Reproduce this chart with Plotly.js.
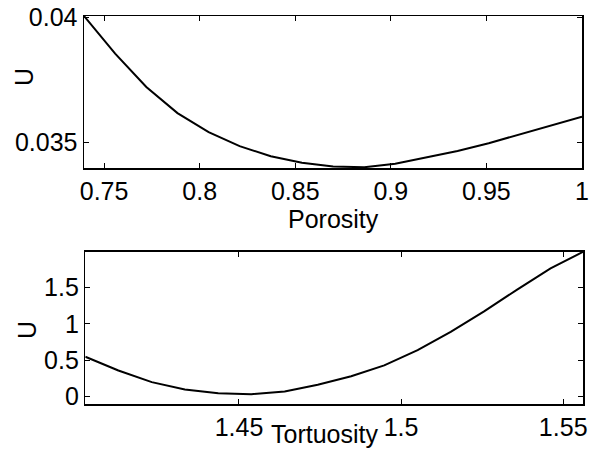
<!DOCTYPE html>
<html>
<head>
<meta charset="utf-8">
<script src="https://cdn.plot.ly/plotly-3.0.1.min.js"></script>
<style>html,body{margin:0;padding:0;background:#fff;}#chart{width:592px;height:451px;}</style>
</head>
<body>
<div id="chart"></div>
<script>
// Top panel: U vs Porosity
const porosity = [0.7395, 0.7558, 0.7721, 0.7884, 0.8047, 0.8209, 0.8372, 0.8535, 0.8698,
                  0.8861, 0.9023, 0.9186, 0.9349, 0.9512, 0.9674, 0.9837, 1.0];
const uPorosity = [0.04005, 0.03855, 0.03722, 0.03618, 0.03542, 0.03486, 0.03446, 0.03420, 0.03405,
                   0.03402, 0.03416, 0.03440, 0.03467, 0.03498, 0.03533, 0.03569, 0.03603];
// Bottom panel: U vs Tortuosity
const tortuosity = [1.4026, 1.4128, 1.4231, 1.4333, 1.4436, 1.4538, 1.4641, 1.4743,
                    1.4846, 1.4948, 1.5051, 1.5153, 1.5256, 1.5358, 1.5461, 1.5562];
const uTortuosity = [0.549, 0.36, 0.20, 0.10, 0.048, 0.035, 0.072, 0.165,
                     0.28, 0.43, 0.64, 0.89, 1.17, 1.47, 1.76, 1.99];

const topXTicks = [0.75, 0.8, 0.85, 0.9, 0.95, 1];
const topXLabels = ["0.75", "0.8", "0.85", "0.9", "0.95", "1"];
const topYTicks = [0.035, 0.04];
const topYLabels = ["0.035", "0.04"];
const botXTicks = [1.45, 1.5, 1.55];
const botXLabels = ["1.45", "1.5", "1.55"];
const botYTicks = [0, 0.5, 1, 1.5];
const botYLabels = ["0", "0.5", "1", "1.5"];

const W = 592, H = 451;
const fnt = {family: "Liberation Sans, Arial, sans-serif", size: 25, color: "#000"};

const axBase = {
  showline: true, linecolor: "#000", linewidth: 1.5, mirror: "allticks",
  ticks: "inside", ticklen: 5, tickwidth: 1, tickcolor: "#000",
  showgrid: false, zeroline: false, tickfont: fnt, tickmode: "array", fixedrange: true
};

const traces = [
  {x: porosity, y: uPorosity, type: "scatter", mode: "lines", xaxis: "x", yaxis: "y",
   line: {color: "#000", width: 2}, hoverinfo: "skip"},
  {x: tortuosity, y: uTortuosity, type: "scatter", mode: "lines", xaxis: "x2", yaxis: "y2",
   line: {color: "#000", width: 2}, hoverinfo: "skip"}
];

const layout = {
  width: W, height: H, margin: {l: 0, r: 0, t: 0, b: 0},
  paper_bgcolor: "#fff", plot_bgcolor: "#fff", showlegend: false, font: fnt,
  xaxis: Object.assign({}, axBase, {domain: [84/W, 582/W], range: [0.7395, 1.0],
    tickvals: topXTicks, ticktext: topXLabels, anchor: "y"}),
  yaxis: Object.assign({}, axBase, {domain: [1-168/H, 1-16/H], range: [0.03399, 0.04005],
    tickvals: topYTicks, ticktext: topYLabels, anchor: "x"}),
  xaxis2: Object.assign({}, axBase, {domain: [85.3/W, 583.3/W], range: [1.4026, 1.5562],
    tickvals: botXTicks, ticktext: botXLabels, anchor: "y2"}),
  yaxis2: Object.assign({}, axBase, {domain: [1-404/H, 1-251.7/H], range: [-0.1, 1.99],
    tickvals: botYTicks, ticktext: botYLabels, anchor: "x2"}),
  annotations: [
    {text: "Porosity", xref: "paper", yref: "paper", x: 333/W, y: 1-219/H,
     xanchor: "center", yanchor: "middle", showarrow: false, font: fnt},
    {text: "Tortuosity", xref: "paper", yref: "paper", x: 324/W, y: 1-434/H,
     xanchor: "center", yanchor: "middle", showarrow: false, font: fnt},
    {text: "U", xref: "paper", yref: "paper", x: 24/W, y: 1-77/H, textangle: -90,
     xanchor: "center", yanchor: "middle", showarrow: false, font: fnt},
    {text: "U", xref: "paper", yref: "paper", x: 27/W, y: 1-330/H, textangle: -90,
     xanchor: "center", yanchor: "middle", showarrow: false, font: fnt}
  ]
};

Plotly.newPlot("chart", traces, layout, {displayModeBar: false, staticPlot: true});
</script>
</body>
</html>
